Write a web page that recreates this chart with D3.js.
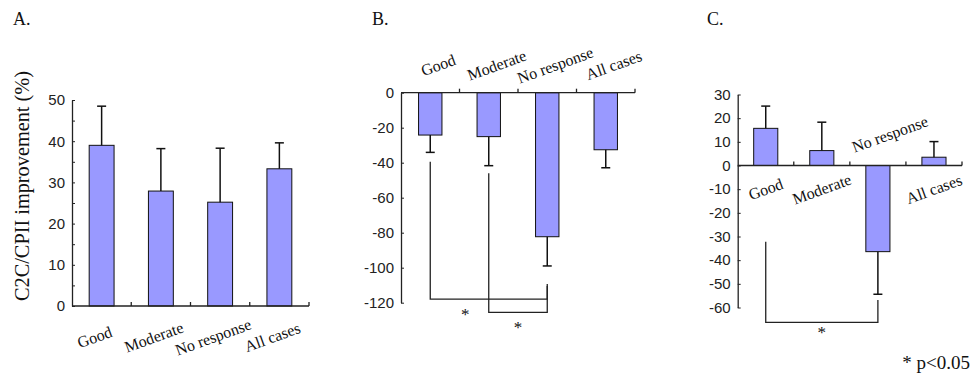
<!DOCTYPE html>
<html>
<head>
<meta charset="utf-8">
<script src="https://cdn.jsdelivr.net/npm/d3@7"></script>
<style>
  body { margin: 0; background: #fff; }
  svg { display: block; }
</style>
</head>
<body>
<div id="chart"></div>
<script>
// data
const categories = ["Good", "Moderate", "No response", "All cases"];

const meanA = [39.0, 27.9, 25.2, 33.3];
const sdA = [9.5, 10.3, 13.1, 6.3];

const meanB = [-24.2, -25.1, -82.3, -32.6];
const sdB = [9.9, 16.6, 16.7, 10.3];

const meanC = [15.7, 6.3, -36.4, 3.5];
const sdC = [9.4, 12.0, 18.0, 6.6];

const ticksA = [0, 10, 20, 30, 40, 50];
const ticksB = [0, -20, -40, -60, -80, -100, -120];
const ticksC = [30, 20, 10, 0, -10, -20, -30, -40, -50, -60];

// significance brackets (values in data units)
const bracketsB = [
  { from: "Good", to: "No response", y: -118, fromTop: -39.4, toTop: -109.3, starAt: 0.3 },
  { from: "Moderate", to: "No response", y: -125.5, fromTop: -46, toTop: -110.5, starAt: 0.5 }
];
const bracketsC = [
  { from: "Good", to: "No response", y: -66.3, fromTop: -32.2, toTop: -56.8, starAt: 0.5 }
];

const W = 973, H = 378;
const barFill = "#9999ff";
const serif = "'Liberation Serif', 'Times New Roman', serif";
const sans = "'Liberation Sans', Arial, sans-serif";

let svg = d3.select("#chart").append("svg").attr("width", W).attr("height", H);

function panel(opt) {
  let g = svg.append("g");
  let x = d3.scaleBand().domain(categories).range(opt.xr)
    .paddingInner(opt.pad).paddingOuter(opt.pad / 2);
  let y = d3.scaleLinear().domain(opt.domain).range(opt.yr);
  let rows = categories.map((c, i) => ({ cat: c, v: opt.mean[i], sd: opt.sd[i] }));

  // bars
  g.selectAll("rect.bar").data(rows).enter().append("rect")
    .attr("x", d => x(d.cat))
    .attr("width", x.bandwidth())
    .attr("y", d => Math.min(y(d.v), y(0)))
    .attr("height", d => Math.abs(y(d.v) - y(0)))
    .attr("fill", barFill)
    .attr("stroke", "#111")
    .attr("stroke-width", 1);

  // error bars, one side only
  let cx = d => x(d.cat) + x.bandwidth() / 2;
  let tip = d => y(d.v + Math.sign(d.v) * d.sd);
  g.selectAll("line.err").data(rows).enter().append("line")
    .attr("x1", cx).attr("x2", cx)
    .attr("y1", d => y(d.v)).attr("y2", tip)
    .attr("stroke", "#111").attr("stroke-width", 1.5);
  g.selectAll("line.cap").data(rows).enter().append("line")
    .attr("x1", d => cx(d) - 4.5).attr("x2", d => cx(d) + 4.5)
    .attr("y1", tip).attr("y2", tip)
    .attr("stroke", "#111").attr("stroke-width", 1.5);

  // y axis, ticks point right
  let yAxis = g.append("g")
    .attr("transform", "translate(" + opt.xr[0] + ",0)")
    .call(d3.axisLeft(y).tickValues(opt.ticks).tickFormat(d => String(d))
      .tickSizeInner(-3).tickSizeOuter(0).tickPadding(7));
  yAxis.select(".domain").attr("stroke", "#222").attr("stroke-width", 1.3);
  yAxis.selectAll(".tick line").attr("stroke", "#222");
  yAxis.selectAll("text").attr("font-family", sans).attr("font-size", 15).attr("fill", "#222");
  if (opt.minor) {
    let m = g.append("g")
      .attr("transform", "translate(" + opt.xr[0] + ",0)")
      .call(d3.axisRight(y).tickValues(opt.minor).tickSize(3).tickFormat(""));
    m.select(".domain").remove();
    m.selectAll(".tick line").attr("stroke", "#222");
  }

  // x axis at zero with boundary ticks pointing up
  let step = x.step();
  g.append("line")
    .attr("x1", opt.xr[0]).attr("x2", opt.xr[1])
    .attr("y1", y(0)).attr("y2", y(0))
    .attr("stroke", "#222").attr("stroke-width", 1.3);
  g.selectAll("line.xt").data(d3.range(1, categories.length + 1)).enter().append("line")
    .attr("x1", i => opt.xr[0] + step * i).attr("x2", i => opt.xr[0] + step * i)
    .attr("y1", y(0)).attr("y2", y(0) - 4)
    .attr("stroke", "#222").attr("stroke-width", 1.3);

  // category labels, slanted
  g.selectAll("text.cat").data(rows).enter().append("text")
    .attr("transform", d => {
      let p = opt.labelPos(d);
      return "translate(" + (cx(d) + p[0]) + "," + p[1] + ") rotate(-20)";
    })
    .attr("text-anchor", "middle")
    .attr("dy", "0.35em")
    .attr("font-family", serif)
    .attr("font-size", 16)
    .attr("fill", "#111")
    .text(d => d.cat);

  // panel letter
  g.append("text")
    .attr("x", opt.title[1]).attr("y", 25)
    .attr("font-family", serif).attr("font-size", 18).attr("fill", "#111")
    .text(opt.title[0]);

  // brackets
  (opt.brackets || []).forEach(b => {
    let x1 = x(b.from) + x.bandwidth() / 2;
    let x2 = x(b.to) + x.bandwidth() / 2;
    let pts = [[x1, y(b.fromTop)], [x1, y(b.y)], [x2, y(b.y)], [x2, y(b.toTop)]];
    g.append("path")
      .attr("d", d3.line()(pts))
      .attr("fill", "none")
      .attr("stroke", "#222")
      .attr("stroke-width", 1.3);
    g.append("text")
      .attr("x", x1 + (x2 - x1) * b.starAt)
      .attr("y", y(b.y) + (opt.starGap || 20))
      .attr("text-anchor", "middle")
      .attr("font-family", serif).attr("font-size", 17).attr("fill", "#111")
      .text("*");
  });
  return { x, y };
}

// A
panel({
  xr: [72, 309], yr: [306, 100], domain: [0, 50], pad: 0.58,
  mean: meanA, sd: sdA, ticks: ticksA,
  minor: [5, 15, 25, 35, 45],
  title: ["A.", 13],
  labelPos: d => [-7, 337]
});

svg.append("text")
  .attr("transform", "translate(29,186) rotate(-90)")
  .attr("text-anchor", "middle")
  .attr("font-family", serif)
  .attr("font-size", 21)
  .attr("textLength", 230)
  .attr("lengthAdjust", "spacingAndGlyphs")
  .attr("fill", "#111")
  .text("C2C/CPII improvement (%)");

// B
panel({
  xr: [401, 635], yr: [302.7, 92.7], domain: [-120, 0], pad: 0.6,
  mean: meanB, sd: sdB, ticks: ticksB,
  title: ["B.", 372],
  labelPos: d => [8, 65],
  brackets: bracketsB, starGap: 21
});

// C
panel({
  xr: [737.7, 962], yr: [307.5, 94.5], domain: [-60, 30], pad: 0.57,
  mean: meanC, sd: sdC, ticks: ticksC,
  title: ["C.", 707],
  labelPos: d => d.v < -20 ? [12, 134] : [0, 189],
  brackets: bracketsC, starGap: 16
});

svg.append("text")
  .attr("x", 970).attr("y", 369)
  .attr("text-anchor", "end")
  .attr("font-family", serif)
  .attr("font-size", 19)
  .attr("fill", "#111")
  .text("* p<0.05");
</script>
</body>
</html>
